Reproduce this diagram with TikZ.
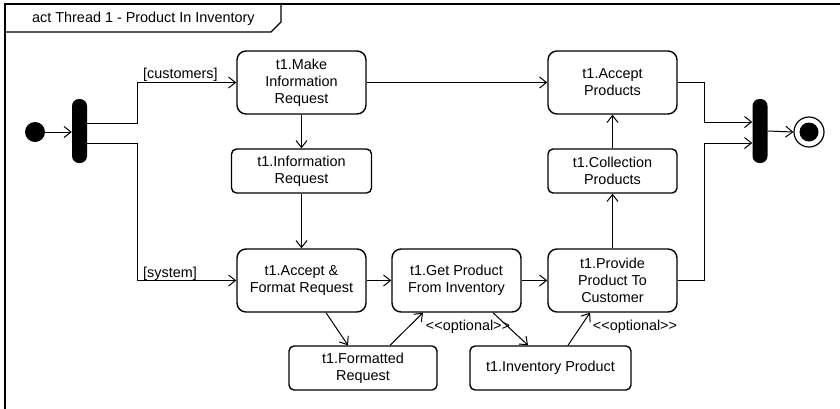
\documentclass[tikz,border=0pt]{standalone}
\usepackage{fontspec}
\setmainfont{Liberation Sans}
\usetikzlibrary{arrows.meta}

\begin{document}
\begin{tikzpicture}[x=1pt,y=-1pt,
  font=\fontsize{14.4}{16.8}\selectfont,
  act/.style={draw, line width=1.4pt, rounded corners=9pt, align=center,
    minimum width=129pt, minimum height=63pt, inner sep=0pt},
  obj/.style={draw, line width=1.4pt, rounded corners=5pt, align=center,
    minimum height=44pt, inner sep=0pt},
  flow/.style={line width=1pt, -{Straight Barb[length=7pt,width=11pt]}},
  syncbar/.style={fill=black, rounded corners=7pt, minimum width=15pt,
    minimum height=64pt, inner sep=0pt},
  lbl/.style={inner sep=0pt}
]
\useasboundingbox (0,0) rectangle (840,408);

% diagram frame and its name tab
\draw[line width=2pt] (5,410) -- (5,4) -- (842,4);
\draw[line width=1.2pt] (5,32) -- (271,32) -- (281,22) -- (281,4);
\node[lbl, anchor=west] (title) at (32,19) {act Thread 1 - Product In Inventory};

% control nodes
\node[circle, fill=black, minimum size=20pt, inner sep=0pt] (init) at (35,132) {};
\node[syncbar] (fork) at (79.5,131) {};
\node[syncbar] (join) at (760,131) {};
\node[circle, draw, line width=1.2pt, minimum size=30pt, inner sep=0pt] (final) at (809,132) {};
\node[circle, fill=black, minimum size=19pt, inner sep=0pt] (finaldot) at (809,132) {};

% actions and object nodes
\node[act] (mir) at (301.5,82.5) {t1.Make\\Information\\Request};
\node[obj, minimum width=140pt] (ir) at (301.5,171) {t1.Information\\Request};
\node[act] (af) at (301.5,280.5) {t1.Accept \&\\Format Request};
\node[act] (gp) at (456.5,280.5) {t1.Get Product\\From Inventory};
\node[obj, minimum width=148pt] (fr) at (363,368) {t1.Formatted\\Request};
\node[obj, minimum width=161pt] (inv) at (550.5,368) {t1.Inventory Product};
\node[act] (pp) at (612.5,280.5) {t1.Provide\\Product To\\Customer};
\node[obj, minimum width=129pt] (cp) at (612.5,171) {t1.Collection\\Products};
\node[act] (ap) at (612.5,82.5) {t1.Accept\\Products};

% flows
\draw[flow] (init.east) -- (fork.west |- init.east);
\draw[flow] ([yshift=8pt]fork.east) -- ++(50,0) |- (mir.west);
\draw[flow] ([yshift=-12pt]fork.east) -- ++(50,0) |- (af.west);
\node[lbl, anchor=south west] (lcust) at (143,82) {[customers]};
\node[lbl, anchor=south west] (lsys) at (143,281) {[system]};

\draw[flow] (mir) -- (ap);
\draw[flow] (mir.south) -- (mir.south |- ir.north);
\draw[flow] (ir.south) -- (ir.south |- af.north);
\draw[flow] (af) -- (gp);
\draw[flow] (gp) -- (pp);
\draw[flow] (pp) -- (cp);
\draw[flow] (cp) -- (ap);

\draw[flow] ([xshift=24.5pt]af.south) -- ([xshift=-15pt]fr.north);
\draw[flow] ([xshift=27pt]fr.north) -- ([xshift=-33.5pt]gp.south);
\draw[flow] ([xshift=36.5pt]gp.south) -- ([xshift=-22.5pt]inv.north);
\draw[flow] ([xshift=17.5pt]inv.north) -- ([xshift=-22.5pt]pp.south);
\node[lbl] (opt1) at (468,327) {<{}<optional>{}>};
\node[lbl] (opt2) at (635,327) {<{}<optional>{}>};

\draw[flow] (ap.east) -- ++(27,0) |- ([yshift=9pt]join.west);
\draw[flow] (pp.east) -- ++(27,0) |- ([yshift=-12pt]join.west);
\draw[flow] (join.east) -- (final.west);
\end{tikzpicture}
\end{document}
